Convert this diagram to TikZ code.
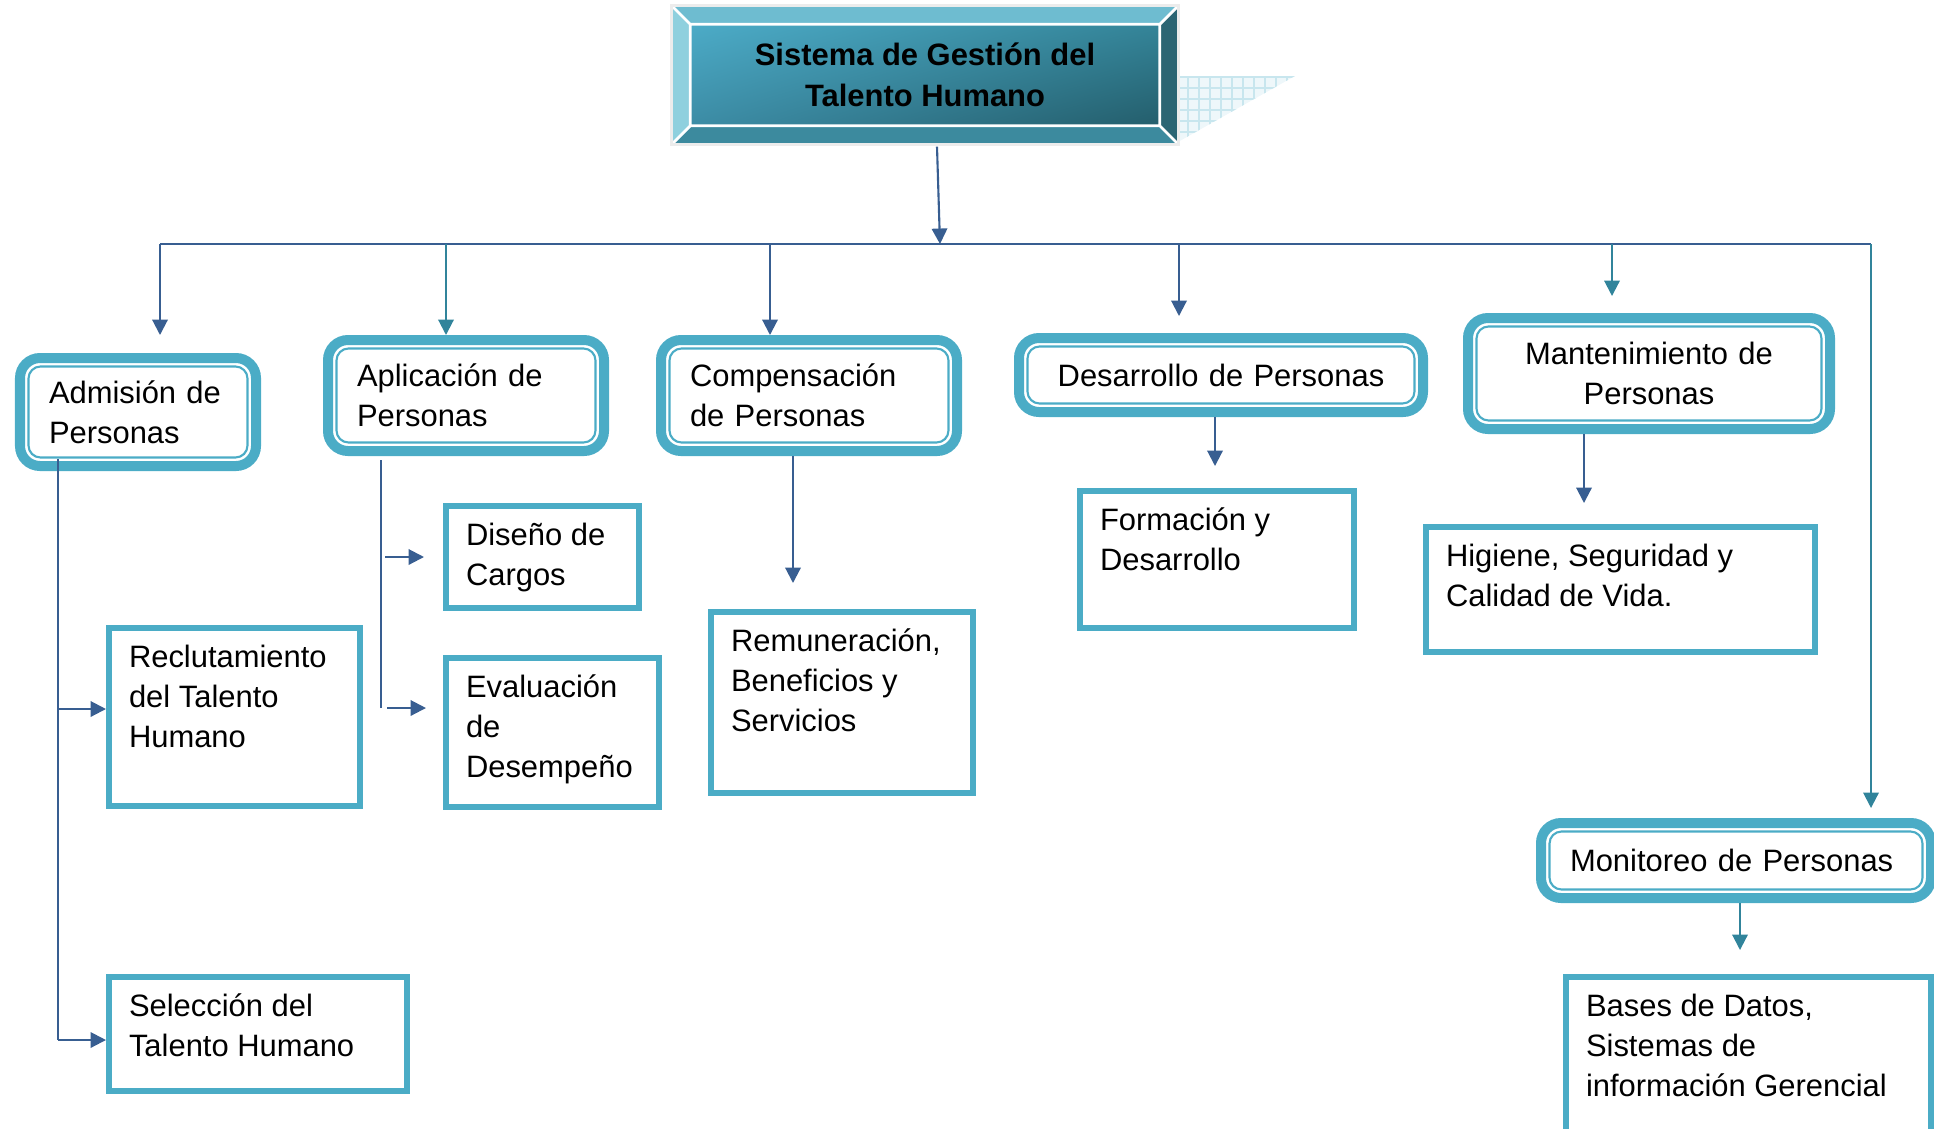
\documentclass[tikz,border=0pt]{standalone}
\usepackage{fontspec}
\setmainfont{Liberation Sans}
\usetikzlibrary{arrows.meta,shadings}
\definecolor{cajaazul}{RGB}{75,172,198}
\definecolor{azulosc}{RGB}{56,94,145}
\definecolor{verdeazul}{RGB}{49,132,155}
\definecolor{biselsup}{RGB}{110,188,208}
\definecolor{biselizq}{RGB}{143,208,222}
\definecolor{biselder}{RGB}{44,101,115}
\definecolor{biselinf}{RGB}{60,138,158}
\definecolor{sombra}{RGB}{238,247,250}
\definecolor{rejilla}{RGB}{200,230,238}
\newcommand{\arriba}[3]{\parbox[c][#1][t]{#2}{\raggedright #3}}
\begin{document}
\begin{tikzpicture}[every node/.style={font=\fontsize{8.8}{11.4}\selectfont,inner sep=0pt},
    titulo/.style={font=\fontsize{8.8}{11.6}\selectfont\bfseries,align=center,minimum width=4.68cm,minimum height=1.00cm,
        upper left={rgb,255:red,76;green,171;blue,199},upper right={rgb,255:red,52;green,132;blue,152},
        lower left={rgb,255:red,60;green,140;blue,165},lower right={rgb,255:red,36;green,94;blue,108}},
    etapa/.style={draw=cajaazul,line width=0.1cm,rounded corners=0.2cm,anchor=north west,inner xsep=0.29cm,align=left},
    interior/.style={draw=cajaazul,line width=0.6pt,rounded corners=0.12cm},
    tarea/.style={draw=cajaazul,line width=0.06cm,anchor=north west,inner xsep=0.2cm,inner ysep=0.17cm},
    linea/.style={draw=azulosc,line width=0.6pt},
    flecha/.style={linea,-{Triangle[width=4.4pt,length=4.4pt]}},
    flechav/.style={flecha,draw=verdeazul}]
    \useasboundingbox (0,0) rectangle (19.34,-11.28);
    % sombra del titulo
    \fill[sombra] (11.78,-0.76) -- (12.95,-0.76) -- (11.78,-1.42) -- cycle;
    \begin{scope}
        \clip (11.78,-0.76) -- (12.95,-0.76) -- (11.78,-1.42) -- cycle;
        \draw[draw=rejilla,line width=0.3pt,step=0.11] (11.7,-1.5) grid (13,-0.7);
    \end{scope}
    \node[titulo] (titulo) at (9.25,-0.75) {Sistema de Gestión del\\Talento Humano};
    \def\bis{0.19} %ancho del bisel
    \path (titulo.north west) coordinate (i1) (titulo.north east) coordinate (i2)
        (titulo.south east) coordinate (i3) (titulo.south west) coordinate (i4)
        ([shift={(-\bis,\bis)}]i1) coordinate (o1) ([shift={(\bis,\bis)}]i2) coordinate (o2)
        ([shift={(\bis,-\bis)}]i3) coordinate (o3) ([shift={(-\bis,-\bis)}]i4) coordinate (o4);
    \fill[biselsup] (o1)--(o2)--(i2)--(i1)--cycle;
    \fill[biselder] (o2)--(o3)--(i3)--(i2)--cycle;
    \fill[biselinf] (o3)--(o4)--(i4)--(i3)--cycle;
    \fill[biselizq] (o4)--(o1)--(i1)--(i4)--cycle;
    \draw[white,line width=0.8pt] (o1)--(i1) (o2)--(i2) (o3)--(i3) (o4)--(i4) (i1) rectangle (i3);
    \draw[gray!15,line width=0.8pt] (o1) rectangle (o3);
    % subsistemas
    \node[etapa,text width=1.78cm,minimum height=1.08cm] (admi) at (0.15,-3.53) {Admisión de\\Personas};
    \node[etapa,text width=2.18cm,minimum height=1.11cm] (apli) at (3.23,-3.35) {Aplicación de\\Personas};
    \node[etapa,text width=2.38cm,minimum height=1.11cm] (comp) at (6.56,-3.35) {Compensación\\de Personas};
    \node[etapa,text width=3.46cm,minimum height=0.74cm,align=center] (desa) at (10.14,-3.33) {Desarrollo de Personas};
    \node[etapa,text width=3.04cm,minimum height=1.11cm,align=center] (mant) at (14.63,-3.13) {Mantenimiento de\\Personas};
    \node[etapa,text width=3.32cm,minimum height=0.75cm] (moni) at (15.36,-8.18) {Monitoreo de Personas};
    \foreach \n in {admi,apli,comp,desa,mant,moni}
        \draw[interior] ([shift={(0.135,-0.135)}]\n.north west) rectangle ([shift={(-0.135,0.135)}]\n.south east);
    % procesos
    \node[tarea] (recl) at (1.06,-6.25) {\arriba{1.44cm}{2.11cm}{Reclutamiento\\del Talento\\Humano}};
    \node[tarea] (sele) at (1.06,-9.74) {\arriba{0.80cm}{2.58cm}{Selección del\\Talento Humano}};
    \node[tarea] (dise) at (4.43,-5.03) {\arriba{0.68cm}{1.53cm}{Diseño de\\Cargos}};
    \node[tarea] (eval) at (4.43,-6.55) {\arriba{1.15cm}{1.73cm}{Evaluación\\de\\Desempeño}};
    \node[tarea] (remu) at (7.08,-6.09) {\arriba{1.47cm}{2.22cm}{Remuneración,\\Beneficios y\\Servicios}};
    \node[tarea] (form) at (10.77,-4.88) {\arriba{1.03cm}{2.34cm}{Formación y\\Desarrollo}};
    \node[tarea] (higi) at (14.23,-5.24) {\arriba{0.91cm}{3.49cm}{Higiene, Seguridad y\\Calidad de Vida.}};
    \node[tarea] (base) at (15.63,-9.74) {\arriba{1.36cm}{3.25cm}{Bases de Datos,\\Sistemas de\\información Gerencial}};
    % conectores
    \coordinate (bus) at (9.40,-2.44);
    \foreach \n/\x in {1/1.60,2/4.46,3/7.70,4/11.79,5/16.12,6/18.71}
        \coordinate (d\n) at (\x,-2.44);
    \draw[linea] (d1) -- (d6);
    \draw[flecha] ([shift={(0.12,-0.21)}]titulo.south) -- (bus);
    \draw[flecha,shorten >=0.18cm] (d1) -- (d1 |- admi.north);
    \draw[flechav] (d2) -- (d2 |- apli.north);
    \draw[flecha] (d3) -- (d3 |- comp.north);
    \draw[flecha,shorten >=0.17cm] (d4) -- (d4 |- desa.north);
    \draw[flechav,shorten >=0.17cm] (d5) -- (d5 |- mant.north);
    \draw[flechav,shorten >=0.10cm] (d6) -- (d6 |- moni.north);
    \coordinate (a0) at ([shift={(0.43,0.12)}]admi.south west);
    \coordinate (r0) at ([yshift=0.08cm]recl.west);
    \coordinate (r1) at ([yshift=-0.06cm]sele.west);
    \draw[linea] (a0) -- (a0 |- r1);
    \draw[flecha] (a0 |- r0) -- (r0);
    \draw[flecha] (a0 |- r1) -- (r1);
    \coordinate (p0) at ([shift={(0.58,-0.04)}]apli.south west);
    \coordinate (p1) at ([yshift=-2.48cm]p0);
    \draw[linea] (p0) -- (p1);
    \draw[flecha,shorten <=0.04cm,shorten >=0.19cm] (p0 |- dise.west) -- (dise.west);
    \draw[flecha,shorten <=0.06cm,shorten >=0.17cm] (p1) -- (p1 -| eval.west);
    \coordinate (c0) at ([xshift=-0.16cm]comp.south);
    \draw[flecha,shorten >=0.26cm] (c0) -- (c0 |- remu.north);
    \coordinate (s0) at ([xshift=-0.06cm]desa.south);
    \draw[flecha,shorten >=0.22cm] (s0) -- (s0 |- form.north);
    \coordinate (m0) at ([xshift=-0.65cm]mant.south);
    \draw[flecha,shorten >=0.21cm] (m0) -- (m0 |- higi.north);
    \coordinate (n0) at ([xshift=0.04cm]moni.south);
    \draw[flechav,shorten >=0.24cm] (n0) -- (n0 |- base.north);
\end{tikzpicture}
\end{document}
